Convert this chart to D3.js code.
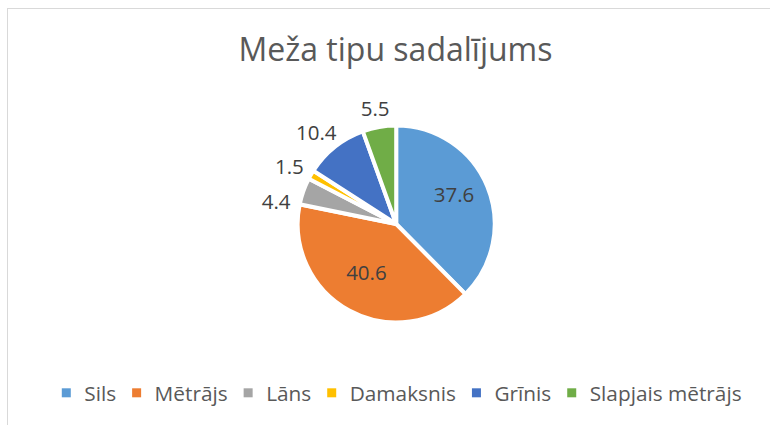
<!DOCTYPE html>
<html><head><meta charset="utf-8">
<script src="https://cdn.jsdelivr.net/npm/d3@7"></script>
<style>html,body{margin:0;padding:0;background:#fff;overflow:hidden}</style>
</head><body>
<svg id="chart" width="770" height="425"></svg>
<script>
const title = "Meža tipu sadalījums";
const categories = ["Sils", "Mētrājs", "Lāns", "Damaksnis", "Grīnis", "Slapjais mētrājs"];
const values = [37.6, 40.6, 4.4, 1.5, 10.4, 5.5];
const colors = ["#5B9BD5", "#ED7D31", "#A5A5A5", "#FFC000", "#4472C4", "#70AD47"];

const W = 770, H = 425;
const font = "'Open Sans', sans-serif";
const textColor = "#595959";
const svg = d3.select("#chart");

// chart border
svg.append("rect").attr("x", 7.5).attr("y", 8.5).attr("width", 820).attr("height", 460)
  .attr("fill", "#fff").attr("stroke", "#d9d9d9").attr("stroke-width", 1);

// title
svg.append("text").attr("x", 395.5).attr("y", 60.5).attr("text-anchor", "middle")
  .attr("font-family", font).attr("font-size", 32).attr("fill", textColor).text(title);

const cx = 396.2, cy = 224, r = 98.5;
const data = categories.map((c, i) => ({cat: c, value: values[i], color: colors[i], i}));
const pie = d3.pie().value(d => d.value).sort(null);
const arcs = pie(data);
const arc = d3.arc().innerRadius(0).outerRadius(r);

const g = svg.append("g").attr("transform", `translate(${cx},${cy})`);
g.selectAll("path").data(arcs).join("path")
  .attr("d", arc).attr("fill", d => d.data.color)
  .attr("stroke", "#fff").attr("stroke-width", 4).attr("stroke-linejoin", "miter");

const labelSize = 20.5;
const insideArc = d3.arc().innerRadius(r * 0.635).outerRadius(r * 0.635);
const labels = arcs.map(a => {
  const mid = (a.startAngle + a.endAngle) / 2;
  const pct = a.data.value / d3.sum(values);
  return {a, mid, inside: pct > 0.15, text: String(a.data.value)};
});

// measure
const meas = svg.append("text").attr("font-family", font).attr("font-size", labelSize);
labels.forEach(l => { meas.text(l.text); l.w = meas.node().getComputedTextLength(); });
meas.remove();

const outR = 103, pad = 5, hBox = 28, boxH = 34, boxShift = 6;
function place(l, ang) {
  const s = Math.sin(ang), c = Math.cos(ang);
  l.x = s * outR + s * (l.w + 2 * pad) / 2;
  l.y = -c * outR - c * hBox / 2;
}
labels.forEach(l => {
  if (l.inside) {
    const [x, y] = insideArc.centroid(l.a);
    l.x = x; l.y = y - boxShift;
  } else {
    l.ang = l.mid;
    place(l, l.ang);
  }
});
// overlap resolution for outside labels: slide along the ring, top to bottom
const outs = labels.filter(l => !l.inside).sort((p, q) => p.y - q.y);
const placed = [];
outs.forEach(q => {
  const dir = Math.sin(q.mid) < 0 ? -1 : 1;
  let guard = 0;
  const hits = () => placed.some(p =>
    Math.abs(p.x - q.x) < (p.w + q.w) / 2 + 6 && q.y < p.y + boxH);
  while (hits() && guard++ < 600) {
    q.ang += dir * Math.PI / 900;
    place(q, q.ang);
  }
  placed.push(q);
});
g.selectAll("text.lbl").data(labels).join("text").attr("class", "lbl")
  .attr("x", d => d.x).attr("y", d => d.y).attr("dy", "0.36em")
  .attr("text-anchor", "middle").attr("font-family", font).attr("font-size", labelSize)
  .attr("fill", "#404040").text(d => d.text);

// legend
const legSize = 20.8, legY = 401, mk = 9, gapMT = 13.5, gapTM = 16;
const leg = svg.append("g");
const m2 = svg.append("text").attr("font-family", font).attr("font-size", legSize);
const widths = categories.map(c => { m2.text(c); return m2.node().getComputedTextLength(); });
m2.remove();
const total = d3.sum(widths) + categories.length * (mk + gapMT) + (categories.length - 1) * gapTM;
let x0 = 401.7 - total / 2;
categories.forEach((c, i) => {
  leg.append("rect").attr("x", x0).attr("y", legY - 12.7).attr("width", mk).attr("height", mk)
    .attr("fill", colors[i]);
  leg.append("text").attr("x", x0 + mk + gapMT).attr("y", legY)
    .attr("font-family", font).attr("font-size", legSize).attr("fill", textColor).text(c);
  x0 += mk + gapMT + widths[i] + gapTM;
});
</script>
</body></html>
